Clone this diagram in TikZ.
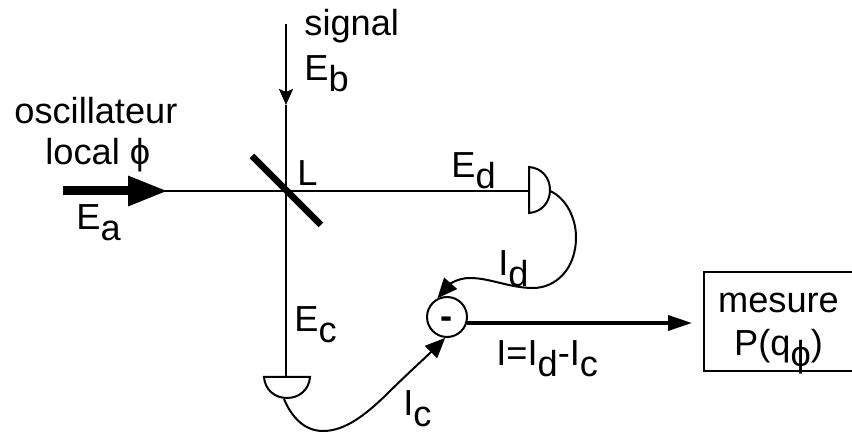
\documentclass[tikz,border=0pt]{standalone}
\usepackage{fontspec}
\setmainfont{Liberation Sans}
\usetikzlibrary{arrows.meta}
\newcommand{\dn}[1]{\raisebox{-5.5pt}[0pt][0pt]{#1}}
\newcommand{\phisym}{\symbol{"03D5}}
\tikzset{
  label text/.style={anchor=base west, inner sep=0pt, font=\fontsize{18.1}{21}\selectfont},
  beam/.style={line width=1pt},
  wire/.style={line width=1pt, -{Triangle[length=10pt,width=8.5pt]}},
}

\begin{document}
\begin{tikzpicture}[x=0.5pt, y=-0.5pt]
  \useasboundingbox (0,0) rectangle (852,432);

  % Beams
  \coordinate (osc) at (63,191);
  \coordinate (osctip) at (168,191);
  \coordinate (sig) at (286,24);
  \coordinate (sigtip) at (286,105);
  \coordinate (detd) at (529,191);
  \coordinate (detc) at (286,377);
  \coordinate (mirrora) at (252,156);
  \coordinate (mirrorb) at (321,225);
  \draw[line width=4.5pt, -{Triangle[length=20pt,width=14pt]}] (osc) -- (osctip);
  \draw[beam] (osc) -- (detd);
  \draw[beam, -{Triangle[length=8pt,width=7pt,inset=1.5pt]}] (sig) -- (sigtip);
  \draw[beam] (sigtip) -- (detc);
  \draw[line width=3.3pt] (mirrora) -- (mirrorb);

  % Detectors
  \draw[beam, fill=white] (detd |- 0,167) .. controls (542,168) and (550,178) .. (550,190)
    .. controls (550,202) and (542,212) .. (529,213) -- cycle;
  \draw[beam, fill=white] (264,377) .. controls (265,390) and (275,398) .. (287,398)
    .. controls (299,398) and (309,390) .. (310,377) -- cycle;
  \coordinate (outd) at (550,191);
  \coordinate (outc) at (284,399);

  % Subtraction and measurement
  \node[circle, draw, line width=1pt, minimum size=20pt, inner sep=0pt,
    font=\fontsize{18.1}{21}\selectfont\bfseries] (sub) at (447,317) {\raisebox{-6pt}[0pt][0pt]{-}};
  \node[draw, line width=1.25pt, minimum width=74.5pt, minimum height=49.5pt, inner sep=0pt,
    align=center, font=\fontsize{18.1}{21.5}\selectfont] (mesure) at (778.5,321.5)
    {\rule{0pt}{16pt}mesure\\P(q\dn{\phisym})};
  \coordinate (outsub) at (467,323);
  \coordinate (outtip) at (692,323);
  \draw[line width=1.75pt, -{Triangle[length=12pt,width=7.5pt]}] (outsub) -- (outtip);

  % Currents
  \draw[wire] (outd) .. controls (566,198) and (576,218) .. (576,237)
    .. controls (576,270) and (555,288) .. (533,288)
    .. controls (510,288) and (490,278) .. (470,278)
    .. controls (458,278) and (450,284) .. (sub.117);
  \draw[wire] (outc) .. controls (292,418) and (305,431) .. (323,431)
    .. controls (345,431) and (365,415) .. (385,396)
    .. controls (405,376) and (425,358) .. (sub.265);

  % Labels
  \node[label text] (lsignal) at (304,36) {signal};
  \node[label text] (leb) at (304,81) {E\dn{b}};
  \node[label text] (losc) at (14,124) {oscillateur};
  \node[label text] (llocal) at (45,165) {local \phisym};
  \node[label text] (ll) at (297,186) {L};
  \node[label text] (lea) at (76,230) {E\dn{a}};
  \node[label text] (led) at (451,178) {E\dn{d}};
  \node[label text] (lid) at (498,276) {I\dn{d}};
  \node[label text] (lec) at (294,332) {E\dn{c}};
  \node[label text] (lic) at (403,416) {I\dn{c}};
  \node[label text] (li) at (496,366) {I=I\dn{d}-I\dn{c}};
\end{tikzpicture}
\end{document}
